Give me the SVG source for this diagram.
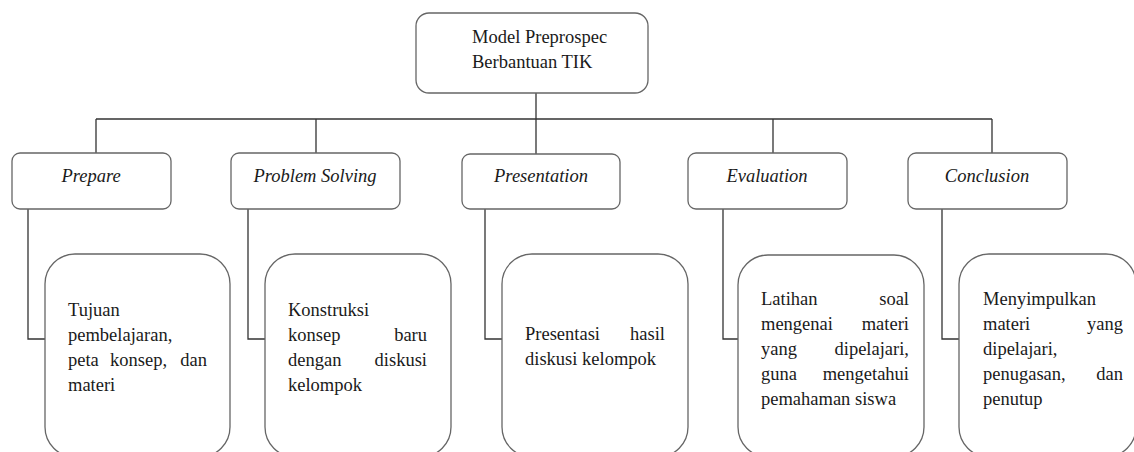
<svg xmlns="http://www.w3.org/2000/svg" width="1134" height="452" viewBox="0 0 1134 452">
<style>
.box{fill:#fff;stroke:#666;stroke-width:1.3}
.ln{fill:none;stroke:#333;stroke-width:1.3}
text{font-family:"Liberation Serif","Times New Roman",serif;font-size:18.5px;fill:#1a1a1a}
.it{font-style:italic;text-anchor:middle}
.e{text-anchor:end}
</style>
<rect width="1134" height="452" fill="#fff"/>
<g id="connectors">
<path class="ln" d="M536 93V119M96 119H992M96 119V153M316 119V153M536 119V154M773 119V153M992 119V153"/>
<path class="ln" d="M28 209V339H45M248 209V339H265M485 209V339H502M723 209V339H738M942 209V339H959"/>
</g>
<g id="root">
<rect class="box" x="416" y="13" width="232" height="80" rx="13"/>
<text x="472" y="43">Model Preprospec</text>
<text x="472" y="68">Berbantuan TIK</text>
</g>
<g id="prepare">
<rect class="box" x="12" y="153" width="159" height="56" rx="8"/>
<text class="it" x="91" y="182">Prepare</text>
</g>
<g id="problem-solving">
<rect class="box" x="231" y="153" width="169" height="56" rx="8"/>
<text class="it" x="315" y="182">Problem Solving</text>
</g>
<g id="presentation">
<rect class="box" x="462" y="154" width="158" height="55" rx="8"/>
<text class="it" x="541" y="182">Presentation</text>
</g>
<g id="evaluation">
<rect class="box" x="688" y="153" width="159" height="56" rx="8"/>
<text class="it" x="767" y="182">Evaluation</text>
</g>
<g id="conclusion">
<rect class="box" x="908" y="153" width="159" height="56" rx="8"/>
<text class="it" x="987" y="182">Conclusion</text>
</g>
<g id="prepare-detail">
<rect class="box" x="45" y="254" width="185" height="203" rx="30"/>
<text x="68" y="316">Tujuan</text>
<text x="68" y="341">pembelajaran,</text>
<text x="68" y="366">peta</text><text x="110" y="366">konsep,</text><text class="e" x="207" y="366">dan</text>
<text x="68" y="391">materi</text>
</g>
<g id="problem-solving-detail">
<rect class="box" x="265" y="254" width="186" height="203" rx="30"/>
<text x="288" y="316">Konstruksi</text>
<text x="288" y="341">konsep</text><text class="e" x="427" y="341">baru</text>
<text x="288" y="366">dengan</text><text class="e" x="427" y="366">diskusi</text>
<text x="288" y="391">kelompok</text>
</g>
<g id="presentation-detail">
<rect class="box" x="502" y="254" width="186" height="203" rx="30"/>
<text x="525" y="340">Presentasi</text><text class="e" x="665" y="340">hasil</text>
<text x="525" y="365">diskusi kelompok</text>
</g>
<g id="evaluation-detail">
<rect class="box" x="738" y="255" width="186" height="202" rx="30"/>
<text x="761" y="305">Latihan</text><text class="e" x="909" y="305">soal</text>
<text x="761" y="330">mengenai</text><text class="e" x="909" y="330">materi</text>
<text x="761" y="355">yang</text><text class="e" x="909" y="355">dipelajari,</text>
<text x="761" y="380">guna</text><text class="e" x="909" y="380">mengetahui</text>
<text x="761" y="405">pemahaman siswa</text>
</g>
<g id="conclusion-detail">
<rect class="box" x="959" y="254" width="177" height="203" rx="30"/>
<text x="983" y="305">Menyimpulkan</text>
<text x="983" y="330">materi</text><text class="e" x="1123" y="330">yang</text>
<text x="983" y="355">dipelajari,</text>
<text x="983" y="380">penugasan,</text><text class="e" x="1123" y="380">dan</text>
<text x="983" y="405">penutup</text>
</g>
</svg>
